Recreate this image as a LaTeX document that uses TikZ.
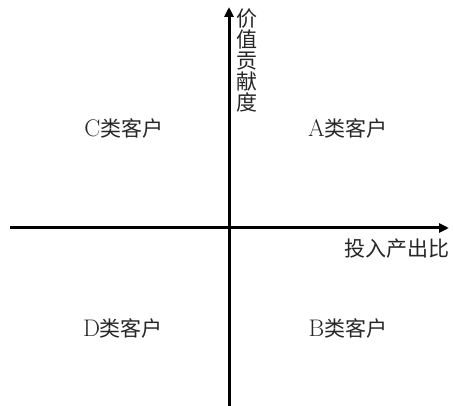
\documentclass[tikz,border=0pt]{standalone}
\usepackage{fontspec}
\newfontfamily\cjk{Noto Sans CJK SC}
\usetikzlibrary{arrows.meta}
\tikzset{
  axis/.style={line width=3pt, -{Triangle[length=10pt,width=9pt]}},
  lbl/.style={font=\fontsize{21}{22}\selectfont, inner sep=0pt, text=black!85}
}
\begin{document}
\begin{tikzpicture}[x=1pt,y=-1pt]
\useasboundingbox (0,0) rectangle (453,406);
\coordinate (xs) at (10,228);
\coordinate (xe) at (449,228);
\coordinate (ys) at (229,406);
\coordinate (ye) at (229,7);
\draw[axis] (xs) -- (xe);
\draw[axis] (ys) -- (ye);
\node[lbl, align=center] (ylab) at (247,61) {{\cjk 价}\\[-1pt]{\cjk 值}\\[-1pt]{\cjk 贡}\\[-1pt]{\cjk 献}\\[-1pt]{\cjk 度}};
\node[lbl] (xlab) at (397,249) {\cjk 投入产出比};
\node[lbl] (c) at (124,128) {\fontsize{24}{24}\selectfont C\fontsize{21}{22}\selectfont{\cjk 类客户}};
\node[lbl] (a) at (348,128) {\fontsize{24}{24}\selectfont A\fontsize{21}{22}\selectfont{\cjk 类客户}};
\node[lbl] (d) at (123,328) {\fontsize{24}{24}\selectfont D\fontsize{21}{22}\selectfont{\cjk 类客户}};
\node[lbl] (b) at (348,328) {\fontsize{24}{24}\selectfont B\fontsize{21}{22}\selectfont{\cjk 类客户}};
\end{tikzpicture}
\end{document}
